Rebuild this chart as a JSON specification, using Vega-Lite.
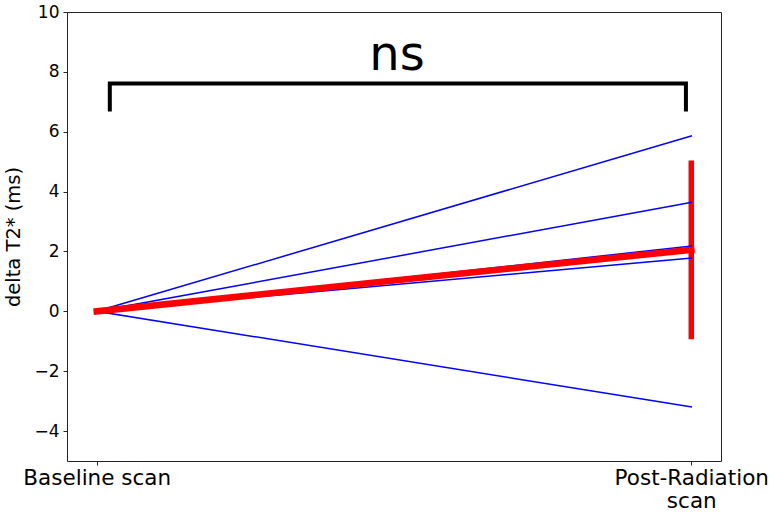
{
  "$schema": "https://vega.github.io/schema/vega-lite/v6.json",
  "width": 654,
  "height": 449,
  "autosize": "none",
  "padding": {"left": 67, "top": 12, "right": 48, "bottom": 51},
  "background": "white",
  "config": {
    "view": {"stroke": "#222222", "strokeWidth": 1},
    "font": "DejaVu Sans",
    "axis": {
      "grid": false,
      "domain": false,
      "tickColor": "#222222",
      "tickSize": 4,
      "labelColor": "#000000",
      "titleColor": "#000000",
      "labelFont": "DejaVu Sans",
      "titleFont": "DejaVu Sans",
      "titleFontWeight": "normal"
    }
  },
  "datasets": {
    "subjects": [
      {"subject": "s1", "scan": 0, "delta": 0},
      {"subject": "s1", "scan": 1, "delta": 5.86},
      {"subject": "s2", "scan": 0, "delta": 0},
      {"subject": "s2", "scan": 1, "delta": 3.64},
      {"subject": "s3", "scan": 0, "delta": 0},
      {"subject": "s3", "scan": 1, "delta": 2.18},
      {"subject": "s4", "scan": 0, "delta": 0},
      {"subject": "s4", "scan": 1, "delta": 1.78},
      {"subject": "s5", "scan": 0, "delta": 0},
      {"subject": "s5", "scan": 1, "delta": -3.19}
    ],
    "summary": [
      {"scan": 0, "mean": 0, "lo": 0, "hi": 0},
      {"scan": 1, "mean": 2.054, "lo": -0.93, "hi": 5.04}
    ],
    "bracket": [
      {"order": 0, "x": 0.022, "y": 6.68},
      {"order": 1, "x": 0.022, "y": 7.61},
      {"order": 2, "x": 0.991, "y": 7.61},
      {"order": 3, "x": 0.991, "y": 6.68}
    ],
    "annotation": [
      {"x": 0.505, "y": 8.06, "text": "ns"}
    ]
  },
  "encoding": {
    "x": {
      "type": "quantitative",
      "scale": {"domain": [-0.05, 1.05], "nice": false, "zero": false},
      "axis": {
        "title": null,
        "values": [0, 1],
        "labelFontSize": 21.5,
        "labelPadding": 2,
        "labelLineHeight": 23.5,
        "labelBaseline": "top",
        "labelExpr": "datum.value == 0 ? 'Baseline scan' : ['Post-Radiation', 'scan']"
      }
    },
    "y": {
      "type": "quantitative",
      "scale": {"domain": [-5, 10], "nice": false, "zero": false},
      "axis": {
        "title": "delta T2* (ms)",
        "titleFontSize": 19.5,
        "titlePadding": 10,
        "values": [-4, -2, 0, 2, 4, 6, 8, 10],
        "labelFontSize": 17,
        "labelPadding": 4,
        "labelExpr": "replace(datum.label, '-', '\u2212')"
      }
    }
  },
  "layer": [
    {
      "data": {"name": "summary"},
      "transform": [{"filter": "datum.scan == 1"}],
      "mark": {"type": "rule", "color": "#ff0000", "strokeWidth": 5.5},
      "encoding": {
        "x": {"field": "scan"},
        "y": {"field": "lo"},
        "y2": {"field": "hi"}
      }
    },
    {
      "data": {"name": "subjects"},
      "mark": {"type": "line", "color": "#0000ff", "strokeWidth": 1.5, "strokeCap": "square"},
      "encoding": {
        "x": {"field": "scan"},
        "y": {"field": "delta"},
        "detail": {"field": "subject"}
      }
    },
    {
      "data": {"name": "summary"},
      "mark": {"type": "line", "color": "#ff0000", "strokeWidth": 6.5, "strokeCap": "square"},
      "encoding": {
        "x": {"field": "scan"},
        "y": {"field": "mean"}
      }
    },
    {
      "data": {"name": "bracket"},
      "mark": {"type": "line", "color": "#000000", "strokeWidth": 4, "strokeJoin": "miter", "strokeCap": "butt"},
      "encoding": {
        "x": {"field": "x"},
        "y": {"field": "y"},
        "order": {"field": "order"}
      }
    },
    {
      "data": {"name": "annotation"},
      "mark": {"type": "text", "fontSize": 48, "font": "DejaVu Sans", "align": "center", "baseline": "alphabetic", "color": "#000000"},
      "encoding": {
        "x": {"field": "x"},
        "y": {"field": "y"},
        "text": {"field": "text"}
      }
    }
  ]
}
